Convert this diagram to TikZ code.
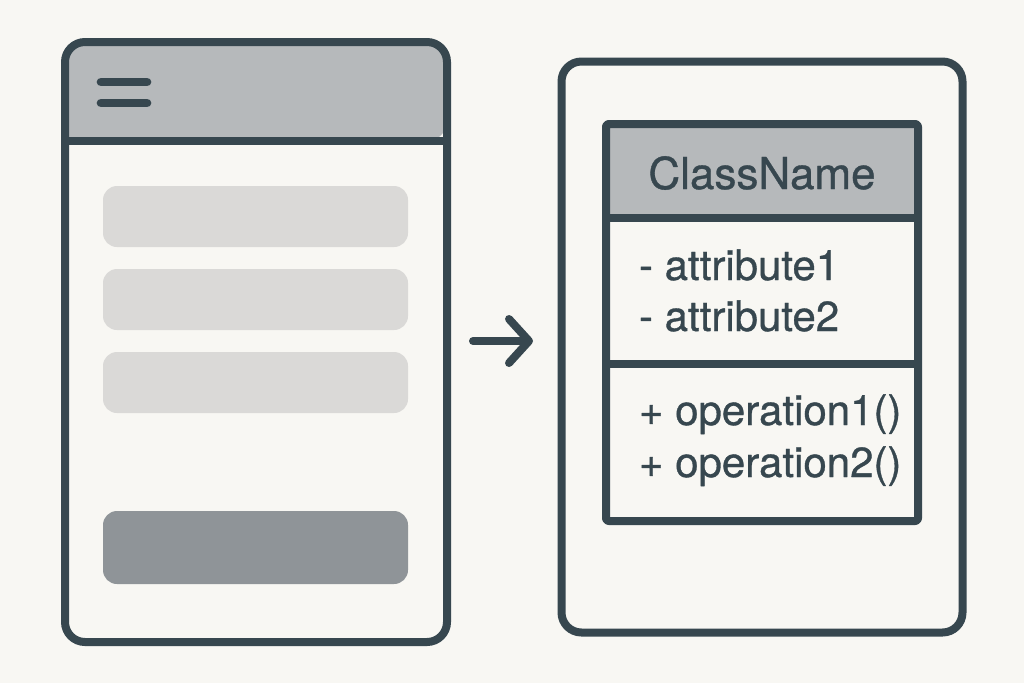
\documentclass[tikz,border=0pt]{standalone}
\usepackage{fontspec}
\setmainfont{TeX Gyre Heros}
\newfontfamily\umlfont{TeX Gyre Heros}[FakeBold=0.8]
\usetikzlibrary{arrows.meta, positioning}
\definecolor{ink}{HTML}{37474F}
\definecolor{paper}{HTML}{F8F7F3}
\definecolor{hdr}{HTML}{B6B9BB}
\definecolor{slot}{HTML}{DAD9D7}
\definecolor{btn}{HTML}{8F9498}

\begin{document}
\begin{tikzpicture}[x=0.75pt, y=-0.75pt, line width=6pt, draw=ink, text=ink, line join=round,
	frame/.style={draw=ink, rounded corners=15pt},
	rule/.style={draw=ink, line cap=butt},
	field/.style={fill=slot, rounded corners=10.5pt},
	member/.style={font=\umlfont\fontsize{31.5pt}{36pt}\selectfont, inner sep=0pt, anchor=base west},
	title/.style={font=\umlfont\fontsize{33pt}{38pt}\selectfont, inner sep=0pt}]

	\fill[paper] (0,0) rectangle (1024,683);
	\useasboundingbox (0,0) rectangle (1024,683);

	\fill[hdr, rounded corners=15pt] (65,141) |- (256,42) -| (447,141) [sharp corners] -- cycle;
	\draw[frame] (65,42) rectangle (447,642);
	\draw[rule] (65,141) -- (447,141);
	\draw[ink, line width=6.5pt, line cap=round] (101,82) -- (147,82) (101,103) -- (147,103);
	\foreach \y in {186, 269, 352}
		\fill[field] (103,\y) rectangle (408,{\y+61});
	\fill[field, fill=btn] (103,511) rectangle (408,584);

	\fill[hdr] (606,124) rectangle (918,218);
	\draw[frame, rounded corners=2pt] (606,124) rectangle (918,521);
	\draw[rule] (606,218) -- (918,218) (606,364) -- (918,364);
	\draw[frame] (561.5,61.5) rectangle (962.5,632.5);

	\node[title]	(CN)	at	(762,173)	{ClassName};
	\node[member]	(A1)	at	(635,280)	{- attribute1};
	\node[member]	(A2)	at	(635,331)	{- attribute2};
	\node[member]	(O1)	at	(635,425)	{+ operation1()};
	\node[member]	(O2)	at	(635,477)	{+ operation2()};

	\coordinate	(from)	at	(473,341);
	\coordinate	(to)	at	(533,341);
	\draw[line cap=round, -{Straight Barb[length=15pt, width=33pt, round]}] (from) -- (to);

\end{tikzpicture}
\end{document}
